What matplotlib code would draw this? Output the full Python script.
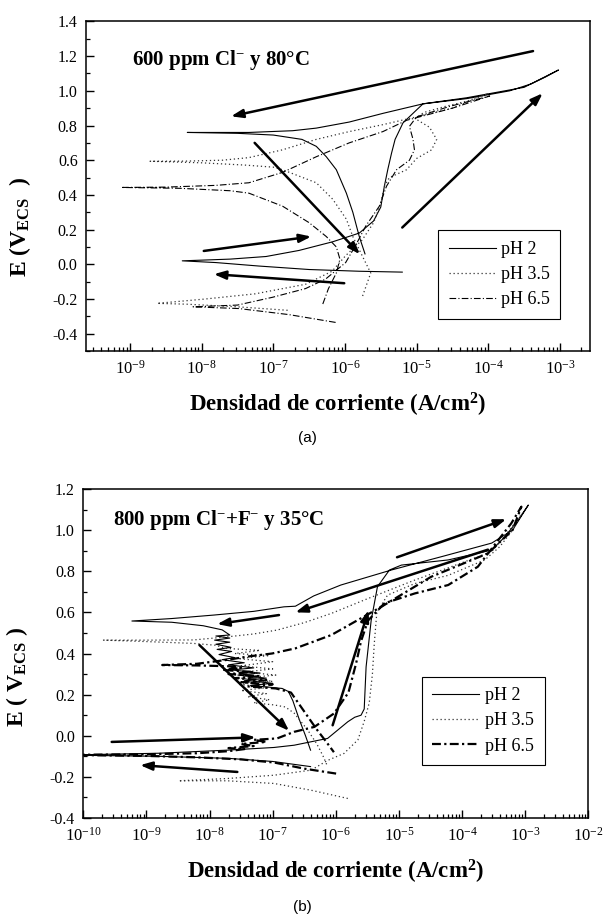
import numpy as np
import matplotlib
matplotlib.use('Agg')
import matplotlib.pyplot as plt
from matplotlib.ticker import LogLocator, MultipleLocator, NullFormatter

plt.rcParams['font.family'] = 'Liberation Serif'
plt.rcParams['mathtext.fontset'] = 'custom'
plt.rcParams['mathtext.rm'] = 'Liberation Serif'
plt.rcParams['mathtext.bf'] = 'Liberation Serif:bold'
plt.rcParams['mathtext.it'] = 'Liberation Serif:italic'
plt.rcParams['axes.unicode_minus'] = False

# --- (a) 600 ppm Cl- , 80 C : log10(i [A/cm2]) and E [V vs ECS], in scan order ---
a_ph2_logi = [-5.2, -5.8, -6.5, -7.2, -7.8, -8.27,
              -7.6, -7.1, -6.64, -6.17, -5.8, -5.6, -5.5, -5.45, -5.4, -5.35, -5.3, -5.19, -5.0, -4.91,
              -4.3, -3.7, -3.4, -3.2, -3.02,
              -3.5, -4.3, -4.91, -5.47, -5.94, -6.4, -6.73, -7.34, -8.2,
              -7.5, -7.0, -6.6, -6.4, -6.26, -6.12, -5.98, -5.89, -5.8, -5.72]
a_ph2_e = [-0.045, -0.04, -0.03, -0.01, 0.01, 0.02,
           0.03, 0.045, 0.08, 0.13, 0.18, 0.25, 0.33, 0.45, 0.55, 0.64, 0.72, 0.815, 0.89, 0.925,
           0.955, 1.0, 1.04, 1.08, 1.12,
           1.02, 0.96, 0.925, 0.87, 0.82, 0.785, 0.77, 0.76, 0.76,
           0.755, 0.745, 0.72, 0.68, 0.62, 0.545, 0.41, 0.30, 0.16, 0.06]

a_ph35_logi = [-6.8, -7.5, -8.2, -8.62,
               -7.95, -7.25, -6.55, -6.18, -5.99, -5.76, -5.6, -5.5, -5.45, -5.38, -5.14, -5.0, -4.79,
               -4.72, -4.82, -5.02, -4.9, -4.6, -4.3, -4.0,
               -4.5, -5.0, -5.47, -5.94, -6.4, -6.87, -7.34, -7.71, -8.2, -8.72,
               -8.0, -7.4, -7.0, -6.87, -6.4, -6.17, -5.98, -5.89, -5.76, -5.64, -5.7, -5.76]
a_ph35_e = [-0.265, -0.245, -0.23, -0.225,
            -0.2, -0.17, -0.115, -0.04, 0.05, 0.14, 0.24, 0.35, 0.45, 0.5, 0.545, 0.61, 0.66,
            0.72, 0.79, 0.84, 0.875, 0.91, 0.94, 0.985,
            0.9, 0.85, 0.805, 0.765, 0.72, 0.66, 0.615, 0.6, 0.595, 0.594,
            0.585, 0.572, 0.56, 0.545, 0.47, 0.375, 0.26, 0.16, 0.05, -0.05, -0.12, -0.19]

a_ph65_logi = [-6.13, -6.78, -7.48, -8.12,
               -7.5, -7.01, -6.55, -6.27, -5.99, -5.85, -5.71, -5.52, -5.42, -5.28, -5.1, -5.03, -5.05,
               -5.1, -5.0, -4.54, -3.98,
               -4.5, -5.14, -5.47, -5.94, -6.4, -6.87, -7.34, -7.8, -8.5, -9.12,
               -8.3, -7.6, -7.34, -6.87, -6.5, -6.26, -6.12, -6.07, -6.12, -6.23, -6.31]
a_ph65_e = [-0.335, -0.29, -0.255, -0.245,
            -0.235, -0.19, -0.14, -0.085, 0.01, 0.11, 0.22, 0.335, 0.45, 0.545, 0.6, 0.66, 0.72,
            0.795, 0.85, 0.91, 0.97,
            0.9, 0.83, 0.765, 0.70, 0.62, 0.53, 0.47, 0.455, 0.445, 0.443,
            0.438, 0.424, 0.41, 0.335, 0.24, 0.16, 0.10, 0.03, -0.05, -0.14, -0.23]

# scan-direction arrows (tail log i, tail E, head log i, head E)
a_arrows = [(-3.375, 1.229, -7.59, 0.853),
            (-5.2, 0.212, -3.24, 0.986),
            (-7.26, 0.70, -5.79, 0.058),
            (-7.97, 0.077, -6.47, 0.16),
            (-6.01, -0.109, -7.83, -0.057)]

# --- (b) 800 ppm Cl- + F- , 35 C ---
b_ph2_logi = [-6.4, -7.0, -7.7, -8.8, -10.3,
              -8.8, -7.72, -6.98, -6.66, -6.13, -5.81, -5.7, -5.6, -5.55, -5.52, -5.44, -5.34, -5.15,
              -4.96, -4.22, -3.53, -3.32, -3.11, -2.95,
              -3.2, -3.53, -4.3, -5.12, -5.92, -6.35, -6.64, -6.82, -7.3, -7.93, -8.6, -9.23,
              -8.6, -8.1, -7.8, -7.68, -7.9, -7.68, -7.92, -7.68, -7.9, -7.66, -7.88, -7.65, -7.85,
              -7.6, -7.8, -7.45, -7.7, -7.3, -7.65, -7.2, -7.55, -7.1, -7.45, -7.0, -7.35, -6.85,
              -6.75, -6.68, -6.58, -6.48, -6.4]
b_ph2_e = [-0.15, -0.125, -0.11, -0.1, -0.094,
           -0.085, -0.07, -0.057, -0.046, -0.013, 0.068, 0.09, 0.1, 0.13, 0.335, 0.56, 0.725, 0.806,
           0.83, 0.855, 0.903, 0.968, 1.05, 1.122,
           1.0, 0.937, 0.873, 0.806, 0.733, 0.68, 0.63, 0.627, 0.605, 0.587, 0.57, 0.558,
           0.552, 0.535, 0.515, 0.49, 0.485, 0.475, 0.465, 0.455, 0.445, 0.43, 0.42, 0.41, 0.395,
           0.38, 0.37, 0.355, 0.345, 0.33, 0.32, 0.305, 0.295, 0.28, 0.27, 0.255, 0.245, 0.23,
           0.215, 0.17, 0.08, 0.0, -0.07]

b_ph35_logi = [-5.81, -6.39, -6.98, -7.72, -8.49,
               -7.72, -6.98, -6.39, -6.13, -5.87, -5.65, -5.55, -5.47, -5.42, -5.39, -5.35, -5.18,
               -4.75, -4.22, -3.64, -3.4, -3.2, -3.05,
               -3.3, -3.53, -3.96, -4.75, -5.55, -6.07, -6.5, -6.93, -7.3, -7.72, -8.25, -9.0, -9.68,
               -9.0, -8.25, -7.9, -7.75, -7.2, -7.6, -7.05, -7.55, -7.0, -7.5, -7.0, -7.45, -6.95,
               -7.5, -7.0, -7.55, -7.05, -7.5, -7.1, -7.4, -7.05, -7.3, -6.98, -6.8, -6.66, -6.45,
               -6.3, -6.2, -6.13]
b_ph35_e = [-0.305, -0.265, -0.232, -0.219, -0.219,
            -0.208, -0.192, -0.167, -0.12, -0.086, -0.02, 0.07, 0.16, 0.3, 0.45, 0.6, 0.684,
            0.74, 0.78, 0.855, 0.92, 1.0, 1.08,
            0.98, 0.895, 0.846, 0.757, 0.66, 0.595, 0.55, 0.514, 0.495, 0.481, 0.466, 0.465, 0.465,
            0.458, 0.449, 0.44, 0.425, 0.415, 0.40, 0.39, 0.375, 0.36, 0.34, 0.325, 0.31, 0.295,
            0.28, 0.265, 0.25, 0.235, 0.22, 0.205, 0.19, 0.175, 0.16, 0.15, 0.14, 0.11, 0.03,
            -0.04, -0.1, -0.15]

b_ph65_logi = [-5.995, -6.5, -6.98, -7.5, -8.2, -9.0, -10.3,
               -9.0, -8.2, -7.7, -7.45, -7.7, -7.3, -7.5, -7.1, -7.3, -6.93, -6.66, -6.34, -6.03,
               -5.8, -5.68, -5.6, -5.49, -5.23, -4.75, -4.22, -3.75, -3.43, -3.22, -3.06,
               -3.2, -3.59, -4.49, -5.28, -6.07, -6.64, -7.01, -7.4, -7.7, -8.2, -8.75,
               -8.2, -7.7, -7.5, -7.8, -7.3, -7.7, -7.2, -7.6, -7.1, -7.5, -7.0, -7.4, -6.95,
               -6.85, -6.71, -6.55, -6.3, -6.15, -6.03]
b_ph65_e = [-0.184, -0.16, -0.13, -0.115, -0.105, -0.098, -0.093,
            -0.09, -0.085, -0.075, -0.065, -0.06, -0.05, -0.04, -0.03, -0.02, -0.013, 0.019, 0.043,
            0.108, 0.21, 0.35, 0.46, 0.56, 0.644, 0.692, 0.733, 0.822, 0.95, 1.033, 1.114,
            1.0, 0.887, 0.773, 0.627, 0.49, 0.425, 0.40, 0.385, 0.37, 0.35, 0.344,
            0.342, 0.338, 0.33, 0.32, 0.31, 0.30, 0.29, 0.28, 0.27, 0.26, 0.25, 0.24, 0.23,
            0.222, 0.21, 0.14, 0.03, -0.03, -0.08]

b_arrows = [(-5.03, 0.868, -3.3, 1.053),
            (-3.59, 0.905, -6.64, 0.6),
            (-6.9, 0.587, -7.88, 0.543),
            (-8.16, 0.441, -6.74, 0.024),
            (-6.05, 0.051, -5.48, 0.611),
            (-9.55, -0.03, -7.27, -0.008),
            (-7.56, -0.176, -9.10, -0.143)]

labels = ['pH 2', 'pH 3.5', 'pH 6.5']


def draw_panel(ax, series, styles, arrows, xlim, ylim, title, title_xy, ylabel, ylabel_y, leg_box):
    for (logi, e), st, lab in zip(series, styles, labels):
        ax.plot(10.0 ** np.array(logi), e, label=lab, **st)
    for x0, y0, x1, y1 in arrows:
        ax.annotate('', xy=(10 ** x1, y1), xytext=(10 ** x0, y0),
                    arrowprops=dict(arrowstyle='-|>,head_length=0.7,head_width=0.25',
                                    lw=1.8, color='k', shrinkA=0, shrinkB=0))
    ax.set_xscale('log')
    ax.set_xlim(*xlim)
    ax.set_ylim(*ylim)
    # one labelled tick per decade inside the range
    k0 = int(np.ceil(np.log10(xlim[0]) - 1e-9))
    k1 = int(np.floor(np.log10(xlim[1]) + 1e-9))
    ax.set_xticks([10.0 ** k for k in range(k0, k1 + 1)])
    ax.xaxis.set_minor_locator(LogLocator(base=10, subs=np.arange(2, 10), numticks=20))
    ax.xaxis.set_minor_formatter(NullFormatter())
    ax.yaxis.set_major_locator(MultipleLocator(0.2))
    ax.yaxis.set_minor_locator(MultipleLocator(0.1))
    ax.yaxis.set_major_formatter(plt.FuncFormatter(lambda v, p: '%.1f' % v))
    ax.tick_params(which='both', direction='in', top=False, right=False)
    ax.tick_params(axis='x', which='major', labelsize=12, pad=6)
    ax.tick_params(axis='y', which='major', labelsize=11.5, pad=6)
    ax.tick_params(which='major', length=6, width=1.0)
    ax.tick_params(which='minor', length=3, width=0.9)
    for sp in ax.spines.values():
        sp.set_linewidth(1.1)
    ax.text(title_xy[0], title_xy[1], title, transform=ax.transAxes, fontsize=15,
            fontweight='bold', va='center', ha='left')
    ax.set_xlabel(r'Densidad de corriente (A/cm$^{\mathbf{2}}$)', fontsize=16.5, fontweight='bold')
    ax.xaxis.set_label_coords(0.5, -0.12)
    ax.set_ylabel(ylabel, fontsize=17, fontweight='bold')
    ax.yaxis.set_label_coords(-0.106, ylabel_y)
    leg = ax.legend(loc='upper left', bbox_to_anchor=leg_box, mode='expand', fontsize=13,
                    frameon=True, fancybox=False, edgecolor='k', framealpha=1,
                    borderaxespad=0, handlelength=2.6, handletextpad=0.3,
                    labelspacing=0.45, borderpad=0.6)
    leg.get_frame().set_linewidth(0.8)


fig = plt.figure(figsize=(6.08, 9.19), dpi=100)
ax_a = fig.add_axes([0.1414, 0.618, 0.829, 0.3587])
ax_b = fig.add_axes([0.137, 0.1099, 0.8306, 0.358])

styles_a = [dict(color='k', lw=0.8, ls='-'),
            dict(color='#333333', lw=0.9, ls=(0, (1, 2.2))),
            dict(color='k', lw=0.8, ls=(0, (6, 2, 1, 2)))]
styles_b = [dict(color='k', lw=0.8, ls='-'),
            dict(color='#333333', lw=0.9, ls=(0, (1, 2.2))),
            dict(color='k', lw=1.6, ls=(0, (4, 1.5, 1, 1.5)))]

draw_panel(ax_a, [(a_ph2_logi, a_ph2_e), (a_ph35_logi, a_ph35_e), (a_ph65_logi, a_ph65_e)],
           styles_a, a_arrows, (10 ** -9.614, 10 ** -2.58), (-0.5, 1.4),
           r'600 ppm Cl$^{-}$ y 80°C', (0.091, 0.883),
           r'E (V$_{\mathbf{ECS}}$  )', 0.376, (0.698, 0.367, 0.242, 0))
draw_panel(ax_b, [(b_ph2_logi, b_ph2_e), (b_ph35_logi, b_ph35_e), (b_ph65_logi, b_ph65_e)],
           styles_b, b_arrows, (1e-10, 1e-2), (-0.4, 1.2),
           r'800 ppm Cl$^{-}$+F$^{-}$ y 35°C', (0.059, 0.906),
           r'E ( V$_{\mathbf{ECS}}$ )', 0.43, (0.67, 0.43, 0.244, 0))

fig.text(0.505, 1 - 438 / 919, '(a)', family='Liberation Sans', fontsize=11, ha='center', va='center')
fig.text(0.497, 1 - 907 / 919, '(b)', family='Liberation Sans', fontsize=11, ha='center', va='center')

fig.savefig('out.png', dpi=100)
